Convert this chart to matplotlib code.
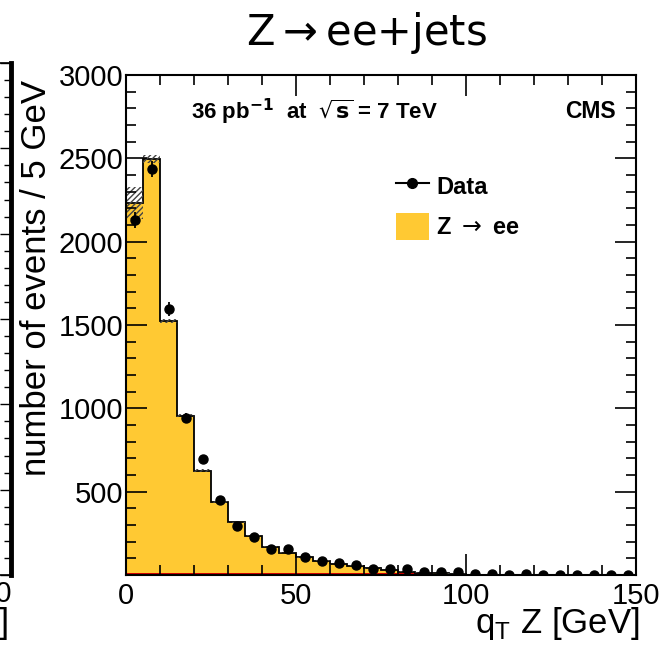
import numpy as np
import matplotlib
matplotlib.use("Agg")
import matplotlib.pyplot as plt
from matplotlib.lines import Line2D
from matplotlib.patches import Patch
from matplotlib.ticker import MultipleLocator

# q_T(Z) binning: 5 GeV bins from 0 to 150
edges = np.arange(0, 155, 5)
centers = 0.5 * (edges[:-1] + edges[1:])

# Z -> ee simulation (stacked on a small background), 0-100 GeV
zee = [2220, 2484, 1514, 944, 614, 428, 304, 224, 158, 122,
       96, 74, 54, 44, 28, 18, 8, 4, 2, 0,
       0, 0, 0, 0, 0, 0, 0, 0, 0, 0]
bkg = [12, 12, 12, 12, 12, 12, 12, 12, 12, 12,
       12, 12, 12, 12, 12, 12, 12, 10, 8, 8,
       0, 0, 0, 0, 0, 0, 0, 0, 0, 0]
# systematic band on the total prediction
mc_err = [95, 22, 12, 10, 8, 6, 5, 4, 3, 3,
          3, 2, 2, 2, 2, 2, 1, 1, 1, 1,
          0, 0, 0, 0, 0, 0, 0, 0, 0, 0]
# observed events
data = [2130, 2436, 1596, 944, 696, 450, 296, 226, 158, 154,
        108, 84, 70, 60, 36, 38, 36, 20, 20, 20,
        6, 8, 3, 4, 3, 2, 3, 3, 2, 2]

zee = np.array(zee, float)
bkg = np.array(bkg, float)
mc_err = np.array(mc_err, float)
data = np.array(data, float)
total = zee + bkg

yellow = "#FFC933"
W, H = 666, 650
fig = plt.figure(figsize=(W / 100, H / 100), dpi=100)
plt.rcParams["font.family"] = ["Liberation Sans", "DejaVu Sans"]

ax = fig.add_axes([126 / W, 1 - 575 / H, 510 / W, 500 / H])

# stacked prediction
ax.stairs(bkg, edges, baseline=0, fill=True, color="#D40000", lw=0)
ax.stairs(total, edges, baseline=bkg, fill=True, color=yellow, lw=0)
ax.stairs(total, edges, baseline=None, color="black", lw=1.3)
# uncertainty band
ax.bar(centers, 2 * mc_err, width=5, bottom=total - mc_err, fill=False,
       hatch="//////", edgecolor="#444444", lw=0)

# data with Poisson errors
ax.errorbar(centers, data, yerr=np.sqrt(data), fmt="o", color="black",
            ms=6.5, elinewidth=1.3, capsize=0, zorder=5)

ax.set_xlim(0, 150)
ax.set_ylim(0, 3000)
ax.xaxis.set_major_locator(MultipleLocator(50))
ax.xaxis.set_minor_locator(MultipleLocator(10))
ax.yaxis.set_minor_locator(MultipleLocator(100))
ax.set_yticks([500, 1000, 1500, 2000, 2500, 3000])
ax.tick_params(which="both", direction="in", top=True, right=True,
               labelsize=21, width=1.2, colors="black")
ax.tick_params(which="major", length=15, pad=5)
ax.tick_params(which="minor", length=7)
ax.tick_params(axis="y", pad=2)
for s in ax.spines.values():
    s.set_linewidth(1.5)

ax.text(19, 2780, r"36 pb$^{\mathbf{-1}}$  at  $\sqrt{\mathbf{s}}$ = 7 TeV",
        fontsize=16, fontweight="bold", va="center", ha="left")
ax.text(144, 2780, "CMS", fontsize=16.5, fontweight="bold", va="center", ha="right")

handles = [Line2D([0], [0], color="black", marker="o", ms=7, lw=1.5),
           Patch(facecolor=yellow, edgecolor="none")]
ax.legend(handles, ["Data", r"Z $\rightarrow$ ee"], loc="upper left",
          bbox_to_anchor=(0.529, 0.805), frameon=False, borderpad=0,
          borderaxespad=0, prop={"size": 17, "weight": "bold"},
          handlelength=1.4, handleheight=1.4, handletextpad=0.3,
          labelspacing=0.55)

fig.text(37 / W, 1 - 278 / H, "number of events / 5 GeV", rotation=90,
         fontsize=25, ha="center", va="center")
fig.text(640 / W, 1 - 624 / H, r"q$_{\mathregular{T}}$ Z [GeV]",
         fontsize=25, ha="right", va="center")
fig.text(366 / W, 1 - 33 / H, r"Z$\rightarrow$ee+jets", fontsize=30,
         ha="center", va="center", family="DejaVu Sans")

# right edge of the neighbouring panel
axl = fig.add_axes([-20 / W, 1 - 575 / H, 31 / W, 512 / H])
axl.set_xlim(0, 1)
axl.set_ylim(0, 3000)
axl.set_xticks([])
axl.yaxis.set_major_locator(MultipleLocator(500))
axl.yaxis.set_minor_locator(MultipleLocator(100))
axl.tick_params(which="both", direction="in", left=False, right=True,
                labelleft=False, width=1.0)
axl.tick_params(which="major", length=8)
axl.tick_params(which="minor", length=5)
axl.spines["right"].set_linewidth(3.5)
axl.spines["top"].set_linewidth(1.2)
axl.spines["left"].set_linewidth(1.0)
axl.spines["bottom"].set_linewidth(1.2)
fig.text(12 / W, 1 - 594 / H, "150", fontsize=21, ha="right", va="center")
fig.text(10 / W, 1 - 624 / H, "[GeV]", fontsize=25, ha="right", va="center")

fig.savefig("out.png", dpi=100)
